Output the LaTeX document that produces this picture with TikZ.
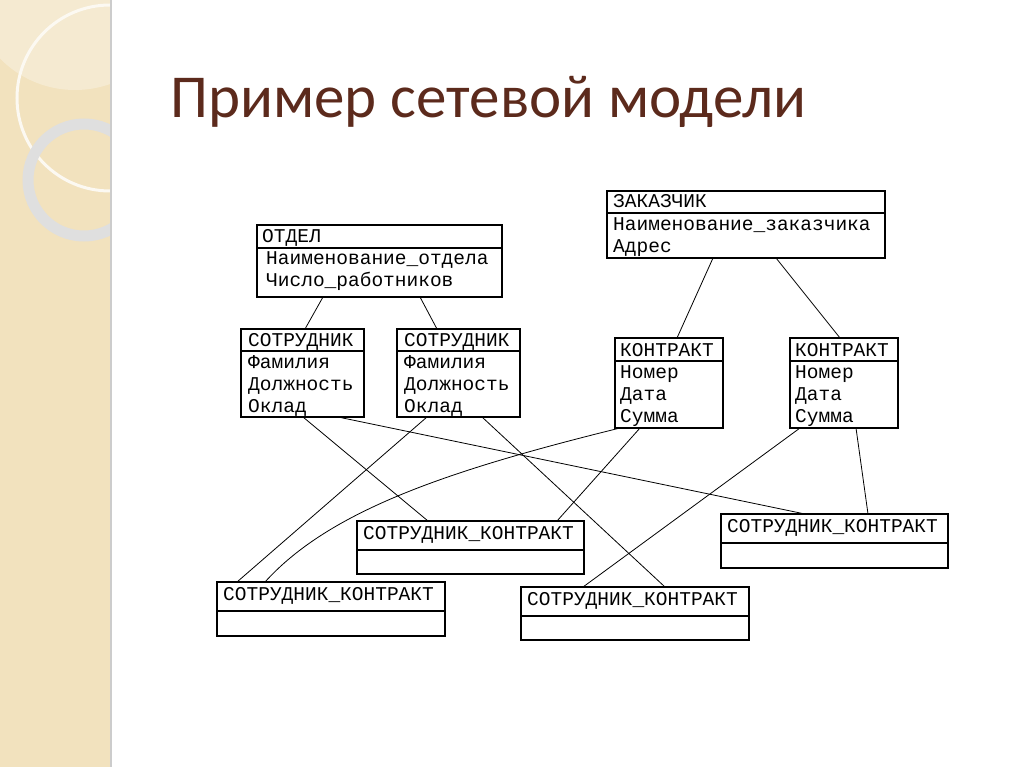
\documentclass[tikz,border=0pt]{standalone}
\usepackage{fontspec}
\setmainfont{Carlito}
\newfontfamily\mono{Liberation Mono}
\definecolor{band}{RGB}{242,226,190}
\definecolor{ttl}{RGB}{92,42,28}
\begin{document}
\begin{tikzpicture}[x=1pt,y=-1pt,
  tb/.style={draw,line width=1.2pt},
  lk/.style={line width=0.8pt},
  tx/.style={anchor=base west,font=\mono\fontsize{19.5}{20}\selectfont,inner sep=0}]
\useasboundingbox (0,0) rectangle (1024,767);
\fill[white] (0,0) rectangle (1024,767);
\begin{scope}
\clip (0,0) rectangle (110,767);
\fill[band] (0,0) rectangle (110,767);
\fill[white,opacity=0.3] (75,-15) circle (105);
\draw[white!80!band,line width=3pt] (110,98) circle (93);
\draw[gray!25,line width=11pt] (84,180) circle (56);
\end{scope}
\draw[gray!40,line width=1.5pt] (111,0) -- (111,767);
\node[anchor=base west,font=\fontsize{61}{61}\selectfont,text=ttl,inner sep=0] (title) at (170,118) {Пример сетевой модели};
\newcommand\tbox[6]{%
  \draw[tb] (#2,#3) rectangle (#4,#5);
  \draw[tb] (#2,#6) -- (#4,#6);
  \coordinate (#1) at (#2,#3);}
\tbox{otd}{257}{225}{502}{297}{248}
\node[tx] (o1) at (262,242) {ОТДЕЛ};
\node[tx] (o2) at (266,264) {Наименование\_отдела};
\node[tx] (o3) at (266,286) {Число\_работников};
\tbox{s1}{241}{329}{364}{417}{351}
\node[tx] (s1a) at (248,346) {СОТРУДНИК};
\node[tx] (s1b) at (248,368) {Фамилия};
\node[tx] (s1c) at (248,390) {Должность};
\node[tx] (s1d) at (248,412) {Оклад};
\tbox{s2}{397}{329}{520}{417}{351}
\node[tx] (s2a) at (404,346) {СОТРУДНИК};
\node[tx] (s2b) at (404,368) {Фамилия};
\node[tx] (s2c) at (404,390) {Должность};
\node[tx] (s2d) at (404,412) {Оклад};
\tbox{z}{607}{191}{885}{258}{213}
\node[tx] (za) at (613,208) {ЗАКАЗЧИК};
\node[tx] (zb) at (613,230) {Наименование\_заказчика};
\node[tx] (zc) at (613,252) {Адрес};
\tbox{k1}{615}{338}{723}{428}{361}
\node[tx] (k1a) at (620,356) {КОНТРАКТ};
\node[tx] (k1b) at (620,378) {Номер};
\node[tx] (k1c) at (620,400) {Дата};
\node[tx] (k1d) at (620,422) {Сумма};
\tbox{k2}{790}{338}{898}{428}{361}
\node[tx] (k2a) at (795,356) {КОНТРАКТ};
\node[tx] (k2b) at (795,378) {Номер};
\node[tx] (k2c) at (795,400) {Дата};
\node[tx] (k2d) at (795,422) {Сумма};
\tbox{sk1}{357}{521}{584}{574}{550}
\node[tx] (sk1a) at (363,539) {СОТРУДНИК\_КОНТРАКТ};
\tbox{sk2}{721}{514}{948}{568}{543}
\node[tx] (sk2a) at (727,532) {СОТРУДНИК\_КОНТРАКТ};
\tbox{sk3}{217}{582}{445}{636}{611}
\node[tx] (sk3a) at (223,600) {СОТРУДНИК\_КОНТРАКТ};
\tbox{sk4}{521}{587}{749}{640}{616}
\node[tx] (sk4a) at (527,605) {СОТРУДНИК\_КОНТРАКТ};
\draw[lk] ([shift={(66,72)}]otd) -- ([shift={(64,0)}]s1);
\draw[lk] ([shift={(163,72)}]otd) -- ([shift={(40,0)}]s2);
\draw[lk] ([shift={(106,67)}]z) -- ([shift={(62,0)}]k1);
\draw[lk] ([shift={(169,67)}]z) -- ([shift={(50,0)}]k2);
\draw[lk] ([shift={(62,88)}]s1) -- ([shift={(71,0)}]sk1);
\draw[lk] ([shift={(97,88)}]s1) -- ([shift={(84,0)}]sk2);
\draw[lk] ([shift={(30,88)}]s2) -- ([shift={(20,0)}]sk3);
\draw[lk] ([shift={(85,88)}]s2) -- ([shift={(144,0)}]sk4);
\draw[lk] ([shift={(5,90)}]k1) .. controls (450,470) and (330,510) .. ([shift={(48,0)}]sk3);
\draw[lk] ([shift={(25,90)}]k1) -- ([shift={(200,0)}]sk1);
\draw[lk] ([shift={(10,90)}]k2) -- ([shift={(62,0)}]sk4);
\draw[lk] ([shift={(66,90)}]k2) -- ([shift={(147,0)}]sk2);
\end{tikzpicture}
\end{document}
